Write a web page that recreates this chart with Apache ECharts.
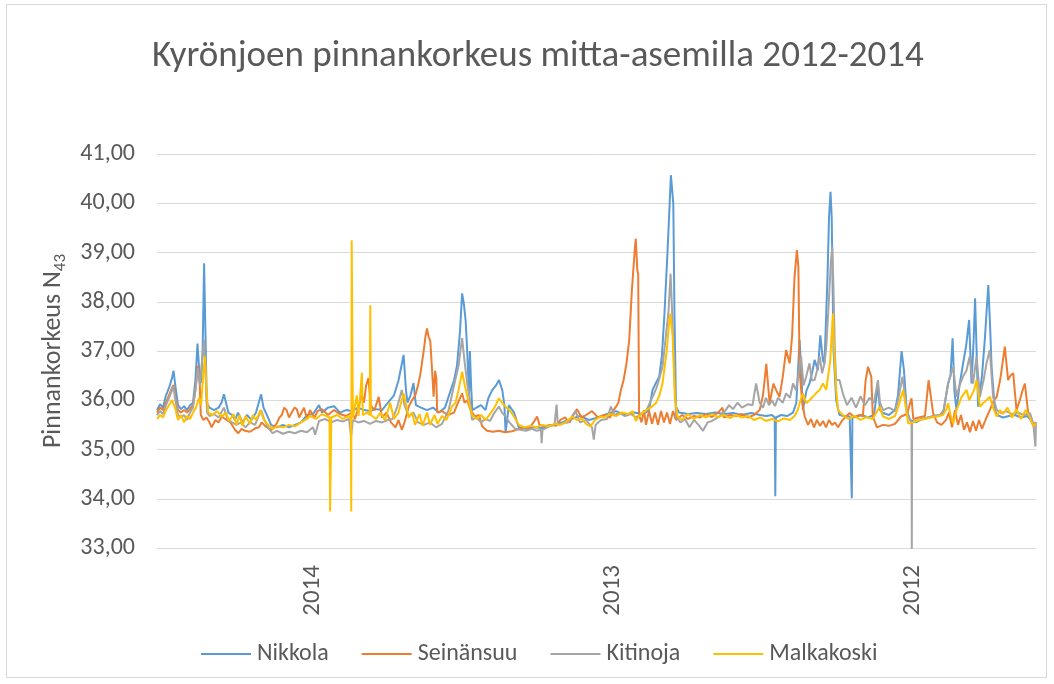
<!DOCTYPE html>
<html>
<head>
<meta charset="utf-8">
<script src="https://cdn.jsdelivr.net/npm/echarts@6/dist/echarts.min.js"></script>
<style>
html,body{margin:0;padding:0;background:#fff;}
#frame{position:absolute;left:6px;top:4px;width:1041px;height:674px;border:1px solid #D9D9D9;box-sizing:border-box;}
#chart{position:absolute;left:0;top:0;width:1054px;height:684px;}
</style>
</head>
<body>
<div id="frame"></div>
<div id="chart"></div>
<script>
// x = time index (100 units per year, newest on the left), y = water level (N43)
const yearTicks = [52, 152, 252];
const yearLabels = ['2014', '2013', '2012'];
const seriesNames = ['Nikkola', 'Seinänsuu', 'Kitinoja', 'Malkakoski'];

const nikkola = [
[0,35.80],[1,35.92],[2,35.85],[3,36.10],[4,36.25],[5,36.45],[5.5,36.60],[6,36.35],[7,35.90],[8,35.82],[9,35.88],[10,35.80],[11,35.90],[12,35.95],[12.8,36.40],[13.5,37.15],[14.2,36.50],[14.7,36.35],[15.2,37.00],[15.7,38.78],[16.1,37.50],[16.6,35.95],[17.5,35.85],[19,35.80],[20.5,35.85],[21.5,35.95],[22.3,36.12],[23,35.95],[23.8,35.75],[25,35.70],[26,35.60],[27,35.75],[28.5,35.55],[30,35.70],[31.5,35.60],[33,35.75],[34.7,36.12],[35.5,35.85],[37,35.65],[38,35.50],[40,35.45],[42,35.50],[44,35.45],[46,35.50],[48,35.55],[50,35.70],
[52,35.72],[54,35.90],[55,35.75],[57,35.85],[59,35.88],[61,35.75],[63,35.80],[65,35.78],[67,35.85],[69,35.80],[71,35.78],[73,35.82],[75,35.80],[77,35.95],[79,36.10],[80.5,36.40],[82.2,36.92],[83,36.20],[83.5,35.95],[84.5,36.10],[85.5,36.35],[86.3,35.90],[88,35.85],[90,35.80],[92,35.85],[94,35.75],[96,35.85],[98.3,36.28],
[99,36.40],[100,36.70],[101,37.40],[101.7,38.17],[102.3,37.95],[102.9,37.60],[103.4,37.00],[104,36.10],[104.3,37.00],[104.7,36.30],[105.1,35.80],[106.5,35.85],[108,35.90],[109.5,35.80],[110.5,36.05],[111.7,36.20],[113,36.30],[114,36.41],[115.1,36.20],[115.8,35.90],[116.2,35.35],[117.3,35.90],[119,35.75],[120.6,35.45],[123,35.42],[126,35.45],[129,35.43],[132,35.50],[135,35.55],[138,35.62],[141,35.68],[144,35.60],[147,35.65],
[150,35.72],[153,35.78],[156,35.70],[159,35.75],[162,35.72],[164,35.80],[165.2,36.21],[166.3,36.35],[167.4,36.48],[168.3,36.90],[169.1,37.70],[170.2,39.05],[171.3,40.57],[172.1,39.99],[172.5,37.70],[173,35.87],[174,35.75],[177,35.72],[180,35.74],[183,35.72],[186,35.75],[189,35.72],[192,35.74],[195,35.70],
[198,35.74],[201,35.70],[203,35.68],[205,35.70],[205.9,35.65],[206.1,34.05],[206.3,35.65],[208,35.70],[210,35.68],[212,35.75],[213.1,35.94],[214.2,37.22],[214.8,36.50],[215.3,35.80],[216.5,36.20],[217.5,36.34],[218.5,36.60],[219.2,36.82],[220.3,36.61],[221.1,37.32],[222,36.80],[222.5,36.75],[223.5,38.50],[224,39.70],[224.5,40.23],[224.9,39.72],[225.5,37.02],[226.4,36.00],[227.5,35.70],[229,35.68],[230.9,35.67],[231.4,35.65],[231.6,34.01],[231.8,35.65],[233,35.67],[235,35.70],[237,35.65],[239,35.70],[240.3,36.30],[241,35.80],[242,35.74],[244,35.70],[246,35.80],
[247,36.10],[248.2,37.00],[249,36.60],[249.9,35.80],[251,35.60],[253,35.55],[255,35.62],[257,35.65],[259,35.68],[261,35.70],[262.1,35.75],[263.7,36.34],[264.5,36.50],[265.2,37.26],[265.8,36.20],[266.5,35.80],[267.5,36.30],[268.7,36.75],[269.7,37.10],[270.7,37.63],[271.5,36.34],[272.2,37.20],[272.7,38.07],[273.2,37.00],[273.7,35.87],[275,36.50],[276,37.29],[277.1,38.34],[277.7,37.50],[278.2,36.68],[279.3,35.80],[280,35.70],[282,35.65],[284,35.68],[286,35.70],[288,35.65],[290,35.68],[291,35.62],[292.1,35.50],[293,35.55]
];

const seinansuu = [
[0,35.75],[1,35.85],[2,35.80],[3,35.95],[4,36.10],[5,36.25],[5.5,36.31],[6,36.10],[7,35.80],[8,35.75],[9,35.80],[10,35.75],[11,35.82],[12,35.90],[12.8,36.20],[13.6,36.70],[14.2,36.40],[14.6,35.70],[15.5,35.60],[16.5,35.65],[17.5,35.55],[18.2,35.45],[19.5,35.60],[20.5,35.55],[21.6,35.67],[23.2,35.60],[24.5,35.55],[26,35.40],[27.1,35.33],[28.2,35.42],[29.3,35.38],[31,35.36],[32.7,35.43],[34,35.45],[34.9,35.55],[36,35.48],[37.1,35.43],[38.2,35.40],[39.9,35.53],[40.8,35.65],[41.6,35.70],[42.4,35.85],[43.2,35.80],[44,35.65],[44.9,35.75],[45.8,35.85],[46.6,35.82],[47.4,35.65],[48.2,35.75],[49,35.85],[50,35.62],
[51,35.80],[52.5,35.65],[53.5,35.78],[55,35.82],[57,35.70],[59,35.80],[61,35.72],[63,35.68],[65,35.75],[66,35.62],[67.2,35.87],[68.3,36.10],[69,35.95],[69.7,36.30],[70.5,36.45],[71.2,35.90],[72.5,35.80],[73.9,36.07],[75,35.65],[76.5,35.75],[78,35.55],[79.5,35.45],[80.5,35.60],[81.6,35.40],[82.5,35.55],[83.9,35.87],[85,36.00],[86.1,36.10],[87,36.30],[87.7,36.50],[88.9,37.00],[89.5,37.30],[90,37.46],[90.5,37.30],[91.1,37.20],[91.6,36.70],[92.2,36.07],[92.7,36.60],[93.1,36.45],[93.4,35.75],[95,35.78],[97,35.70],[99,35.75],
[100,35.90],[101.7,36.14],[102.5,35.95],[103.4,36.00],[104.5,35.80],[106,35.67],[107.3,35.70],[108.4,35.47],[110,35.38],[112,35.36],[114,35.38],[116,35.35],[118.4,35.37],[120.6,35.42],[122.5,35.45],[124,35.43],[125.5,35.55],[126.7,35.67],[127.5,35.50],[129,35.47],[131,35.50],[133,35.48],[134.5,35.60],[136,35.65],[137.5,35.55],[139,35.72],[140,35.82],[141.5,35.65],[143,35.70],[145,35.78],[147,35.65],
[149,35.70],[151,35.65],[152,35.78],[153,35.87],[153.8,35.95],[154.6,36.20],[155.5,36.40],[156.5,36.75],[157.4,37.22],[158.3,38.24],[159.3,39.10],[159.6,39.28],[160.1,38.64],[160.4,38.57],[160.7,35.70],[161.5,35.55],[162.3,35.80],[163,35.50],[164,35.78],[165,35.52],[166,35.75],[167,35.50],[168,35.78],[169,35.55],[170,35.75],[171,35.52],[172,35.78],[173,35.60],[175,35.70],[177,35.62],[179,35.68],[181,35.65],[183,35.72],[185,35.66],[187,35.75],[188.5,35.85],[189,35.65],[191,35.70],[193,35.68],[195,35.72],[197,35.65],
[199,35.70],[200.9,35.80],[202,36.10],[203.1,36.74],[204.2,35.94],[205.5,36.34],[206.4,36.20],[207.5,36.07],[208.6,36.48],[209.7,37.02],[210.9,36.75],[211.7,37.30],[212.5,38.50],[213.3,39.05],[213.8,38.70],[214.2,36.60],[215,36.00],[215.9,35.67],[217,35.50],[218,35.62],[219,35.45],[220,35.60],[221,35.48],[222,35.58],[223,35.45],[224,35.60],[225,35.50],[226,35.55],[227,35.45],[228.5,35.60],[230.9,35.74],[232.5,35.65],[234,35.70],[235.3,35.68],[236.2,36.40],[237,36.68],[238.1,36.48],[238.6,35.67],[240,35.45],[242,35.50],[244,35.48],[246,35.52],
[248,35.67],[250,35.72],[251.5,36.04],[252.1,35.62],[254,35.65],[256,35.68],[257.2,36.41],[258.7,35.74],[260,35.55],[261.5,35.50],[263,35.60],[264,35.75],[265,35.45],[266,35.80],[267,35.50],[268,35.70],[269,35.40],[270,35.55],[271,35.35],[272,35.58],[273,35.38],[274,35.60],[275,35.42],[276.5,35.65],[277.6,35.80],[279,36.00],[279.9,36.07],[281,36.40],[281.5,36.60],[282.6,37.09],[283.7,36.41],[284.5,36.50],[285.4,36.55],[286.5,35.80],[287.6,36.00],[288.5,36.20],[289.3,36.34],[290.4,35.74],[291.5,35.60],[292.1,35.47],[293,35.55]
];

const kitinoja = [
[0,35.70],[1,35.78],[2,35.72],[3,35.90],[4,36.05],[5,36.20],[5.5,36.28],[6,36.05],[7,35.70],[8,35.65],[9,35.70],[10,35.60],[11,35.75],[12,35.85],[12.8,36.20],[13.6,36.65],[14.3,36.30],[15,36.80],[15.7,37.22],[16.2,36.50],[16.7,35.75],[17.5,35.68],[19,35.72],[20.5,35.65],[22.3,35.85],[23.5,35.62],[25,35.55],[26.5,35.50],[28,35.55],[29.5,35.45],[31,35.55],[32.7,35.50],[34.7,35.80],[35.8,35.60],[37,35.45],[38.5,35.33],[40,35.38],[42,35.32],[44,35.36],[46,35.33],[48,35.38],[50,35.35],
[52,35.45],[52.7,35.30],[54,35.58],[56,35.62],[58,35.55],[60,35.60],[62,35.57],[64,35.62],[64.7,35.26],[65.3,35.60],[67,35.55],[69,35.58],[71,35.52],[73,35.58],[75,35.55],[77,35.60],[78.5,35.62],[80,35.85],[81.6,36.21],[82.5,35.90],[83.9,35.67],[85.5,35.75],[87,35.55],[89,35.50],[91,35.55],[93,35.45],[95,35.52],[97.2,35.80],
[99,36.30],[100.5,36.70],[101.7,37.26],[102.5,36.80],[103.4,36.34],[104.3,36.00],[105,35.60],[106.5,35.65],[108,35.55],[109.5,35.62],[111,35.58],[112.5,35.75],[114,35.87],[115,35.75],[116.2,35.67],[117.5,35.55],[119.4,35.42],[121,35.40],[123,35.38],[125,35.42],[126.5,35.38],[128,35.40],[128.2,35.13],[128.5,35.40],[130.6,35.47],[132.5,35.50],[133.2,35.91],[133.6,35.50],[135,35.53],[137,35.55],[139.5,35.78],[141,35.55],[143,35.60],[145,35.45],[145.6,35.20],[146.2,35.50],[148,35.60],
[150,35.62],[151.3,35.87],[152.5,35.70],[154,35.75],[156,35.68],[158,35.72],[159.6,35.65],[161,35.70],[163,35.78],[165.2,36.07],[166.5,36.25],[167.5,36.45],[168.5,36.68],[169.6,37.29],[170.5,37.80],[171.2,38.57],[171.6,37.97],[172.3,36.80],[173,35.67],[174.5,35.55],[176,35.62],[177.5,35.45],[179,35.60],[180.5,35.50],[182,35.38],[183.5,35.55],[185,35.58],[187,35.65],[189,35.75],[190.7,35.90],[192,35.82],[193.5,35.95],[195,35.85],[197,35.92],
[198.5,35.90],[199.7,36.34],[200.9,35.95],[202,35.85],[203,36.05],[204,35.90],[205,36.00],[206,35.88],[207,36.05],[208.6,35.95],[209.7,36.14],[211,36.05],[212,36.34],[213,36.20],[214.7,36.89],[215.5,36.30],[216.4,36.48],[217.5,36.75],[218.3,36.40],[219.2,36.41],[220,36.60],[220.9,36.89],[221.7,36.55],[222.5,36.75],[223.1,37.09],[224,38.07],[224.6,38.80],[225.1,39.11],[225.5,38.24],[226,36.90],[226.4,36.41],[227.5,36.41],[228.6,36.14],[230,35.90],[231.5,36.05],[233,35.85],[234.5,36.08],[236,35.90],[237.5,36.05],[239,35.95],[240.3,36.41],[241,35.95],[242,35.80],[244,35.85],[246,35.78],
[247,36.00],[248.5,36.48],[249.3,36.10],[249.9,35.74],[251,35.60],[251.5,35.55],[251.6,32.97],[251.7,35.55],[253,35.58],[255,35.62],[257,35.65],[259,35.68],[261,35.70],[262.2,35.80],[263.7,36.34],[265.4,36.68],[266.5,36.07],[267.5,36.30],[268.7,36.48],[269.8,36.60],[270.9,36.89],[272,36.34],[273.2,36.89],[274.3,36.07],[275.5,36.40],[276.5,36.75],[277.6,37.02],[278.7,36.07],[279.9,35.80],[281.5,35.74],[283,35.78],[285,35.72],[287,35.75],[289,35.70],[291,35.74],[292.1,35.53],[292.8,35.06],[293,35.55]
];

const malkakoski = [
[0,35.62],[1,35.70],[2,35.65],[3,35.80],[4,35.90],[5,36.00],[5.5,36.04],[6,35.85],[7,35.60],[8,35.70],[9,35.55],[10,35.68],[11,35.62],[12,35.75],[13,35.85],[14,36.05],[14.7,35.90],[15.4,36.50],[16,36.89],[16.5,36.20],[17.1,35.75],[18.5,35.70],[20,35.78],[21.6,35.67],[23,35.75],[24,35.58],[25.5,35.72],[26.5,35.50],[27.5,35.70],[28.5,35.48],[29.5,35.68],[31,35.52],[32,35.70],[33,35.60],[34.5,35.80],[35.5,35.62],[37,35.50],[38.5,35.42],[40,35.47],[42,35.45],[44,35.50],[46,35.47],[48,35.55],[50,35.62],
[51,35.68],[53,35.62],[55,35.72],[57.5,35.65],[57.7,33.74],[57.9,33.74],[58.1,35.65],[60,35.70],[62,35.62],[64,35.68],[64.6,35.60],[64.75,33.74],[64.9,39.25],[65.1,39.25],[65.3,35.65],[66.6,36.10],[67.2,35.68],[68.3,36.56],[68.6,35.70],[70,35.75],[70.9,35.70],[71.1,37.93],[71.3,35.70],[73,35.62],[74.5,35.75],[76,35.60],[77.7,35.95],[79,35.62],[80.5,35.75],[82.2,36.14],[83.9,35.65],[85,35.75],[86,35.50],[87.5,35.72],[88.5,35.48],[90,35.75],[91,35.50],[92.5,35.70],[93.5,35.52],[95,35.68],[96.5,35.60],[98.3,35.87],
[99.5,35.95],[100.5,36.20],[101.7,36.58],[102.6,36.30],[104,35.94],[105,35.70],[106.5,35.62],[108,35.70],[109.5,35.60],[111,35.72],[112.5,35.85],[114,36.04],[115,35.95],[116.2,35.87],[117.5,35.80],[119,35.67],[120.6,35.50],[122.5,35.45],[124.5,35.48],[126.5,35.45],[128.5,35.50],[130.5,35.47],[132.5,35.52],[134.5,35.50],[136.2,35.55],[138.4,35.67],[140,35.60],[141.7,35.62],[143,35.52],[144.5,35.47],[146,35.60],[148,35.67],
[149,35.65],[151,35.72],[153,35.68],[155,35.75],[157,35.72],[158.5,35.78],[159.6,35.58],[161,35.70],[163,35.80],[164.5,35.85],[166.3,35.94],[167.5,36.10],[168.5,36.34],[169.9,37.00],[170.6,37.50],[171.1,37.76],[171.9,37.29],[172.6,36.07],[173.5,35.67],[175,35.60],[177,35.72],[179,35.62],[181,35.70],[183,35.65],[185,35.72],[187,35.66],[189,35.70],[191,35.64],[193,35.70],[195,35.65],[197,35.68],
[199,35.60],[201,35.65],[203,35.58],[205,35.62],[207,35.57],[209,35.63],[211,35.60],[212.5,35.68],[213.6,35.80],[214.5,36.00],[215.3,36.14],[216.4,35.94],[217.5,36.00],[218.6,36.07],[219.8,36.15],[220.9,36.21],[222,36.34],[223.1,36.21],[224.4,36.80],[225.3,37.76],[225.8,36.90],[226.4,36.21],[227,35.80],[228.6,35.70],[230.5,35.62],[232.5,35.68],[234.5,35.60],[236.5,35.66],[238.5,35.62],[240.9,35.87],[242,35.67],[244,35.62],[246,35.68],
[247,35.85],[248.7,36.21],[249.5,35.90],[250.4,35.53],[252,35.55],[254,35.60],[256,35.62],[258,35.65],[260,35.67],[262,35.70],[263,35.80],[263.7,35.94],[264.5,35.70],[265.4,35.53],[266.5,35.80],[268.2,36.07],[269.9,36.21],[270.7,36.00],[271.5,36.10],[272.3,36.20],[273.2,36.41],[274.3,35.87],[275.5,35.95],[276.5,36.00],[277.6,36.07],[278.7,35.85],[279.9,35.67],[281,35.80],[282,35.72],[283.5,35.85],[285,35.65],[286.5,35.82],[288,35.62],[289.5,35.80],[291,35.65],[292.1,35.47],[293,35.53]
];

const colors = ['#5B9BD5', '#ED7D31', '#A5A5A5', '#FFC000'];
const FONT = 'Carlito, Lato, "Open Sans", sans-serif';
const TXT = '#595959';

const chart = echarts.init(document.getElementById('chart'), null, {renderer: 'canvas'});
const allData = [nikkola, seinansuu, kitinoja, malkakoski];

chart.setOption({
  animation: false,
  color: colors,
  title: {
    text: 'Kyrönjoen pinnankorkeus mitta-asemilla 2012-2014',
    left: 147,
    top: 33,
    textStyle: {fontFamily: FONT, fontSize: 37, fontWeight: 'normal', color: TXT}
  },
  legend: {
    data: seriesNames,
    left: 196,
    top: 637,
    icon: 'rect',
    itemWidth: 50,
    itemHeight: 2,
    itemGap: 33,
    textStyle: {fontFamily: FONT, fontSize: 24, color: TXT, padding: [0, 0, 0, 1]}
  },
  grid: {left: 157, right: 18, top: 154, bottom: 136, containLabel: false},
  xAxis: {
    type: 'value',
    min: 0,
    max: 293,
    axisLine: {show: true, lineStyle: {color: '#D9D9D9', width: 1}},
    axisTick: {show: false},
    splitLine: {show: false},
    axisLabel: {
      customValues: yearTicks,
      rotate: 90,
      margin: 17,
      fontFamily: FONT,
      fontSize: 25,
      color: TXT,
      formatter: function (v) {
        const i = yearTicks.indexOf(v);
        return i >= 0 ? yearLabels[i] : '';
      }
    }
  },
  yAxis: {
    type: 'value',
    min: 33,
    max: 41,
    interval: 1,
    name: '{a|Pinnankorkeus N}{b|43}',
    nameLocation: 'middle',
    nameGap: 74,
    nameTextStyle: {
      rich: {
        a: {fontFamily: FONT, fontSize: 26, color: TXT, lineHeight: 32, verticalAlign: 'middle'},
        b: {fontFamily: FONT, fontSize: 17, color: TXT, lineHeight: 32, verticalAlign: 'bottom'}
      }
    },
    axisLine: {show: false},
    axisTick: {show: false},
    splitLine: {lineStyle: {color: '#D9D9D9', width: 1}},
    axisLabel: {
      margin: 22,
      fontFamily: FONT,
      fontSize: 24,
      color: TXT,
      formatter: function (v) { return v.toFixed(2).replace('.', ','); }
    }
  },
  series: seriesNames.map(function (n, i) {
    return {
      name: n,
      type: 'line',
      data: allData[i],
      showSymbol: false,
      symbol: 'none',
      lineStyle: {width: 2, color: colors[i]},
      itemStyle: {color: colors[i]}
    };
  })
});
</script>
</body>
</html>
